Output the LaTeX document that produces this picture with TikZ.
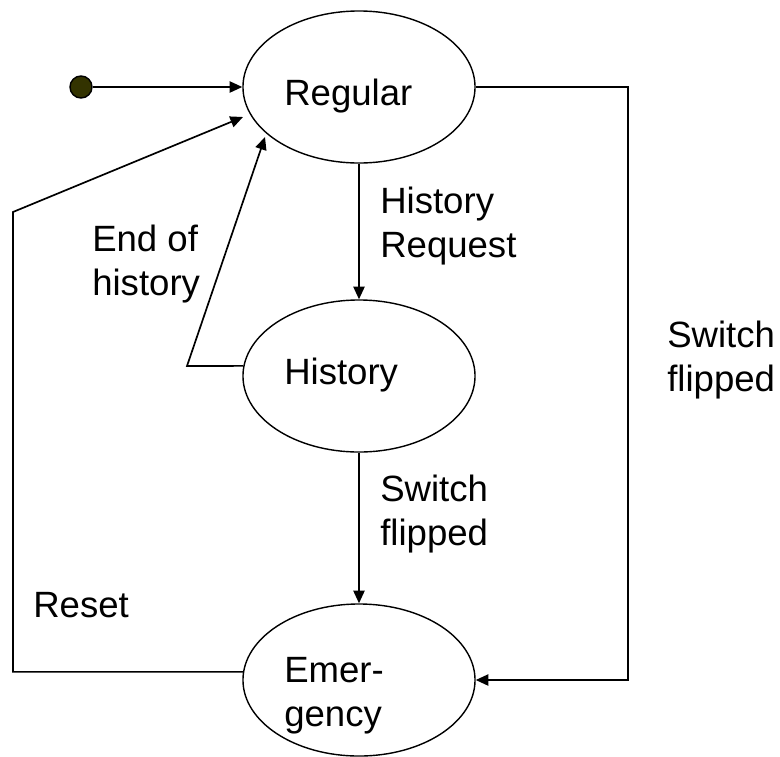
\documentclass[tikz,border=0pt]{standalone}
\usepackage{fontspec}
\setmainfont{Liberation Sans}
\usepackage{tikz}
\usetikzlibrary{
    positioning,
    arrows.meta,
    shapes.geometric
}
\definecolor{dotOlive}{RGB}{51, 51, 0}

\begin{document}
\begin{tikzpicture}[x=0.025cm, y=-0.025cm, >={Triangle[length=9pt, width=8pt]},
    state/.style={draw, ellipse, line width=1pt, inner sep=0pt,
        minimum width=5.8cm, minimum height=3.8cm},
    txt/.style={font=\fontsize{26}{31}\selectfont, align=left,
        inner sep=0pt, anchor=north west},
    wire/.style={line width=1.2pt}]
    \useasboundingbox (0,0) rectangle (780,756);

    % 状態
    \node[state] (reg) at (359, 87) {};
    \node[state] (hist) at (359, 376) {};
    \node[state] (emer) at (359, 680) {};
    \node[circle, draw, fill=dotOlive, line width=1pt, inner sep=0pt,
        minimum size=0.55cm] (init) at (81, 87) {};

    % 状態の名前
    \node[txt] (regname) at (284, 79) {Regular};
    \node[txt] (histname) at (284, 358) {History};
    \node[txt] (emername) at (284, 657) {Emer-\\gency};

    % 補助点
    \coordinate (rgt) at (628, 87);
    \coordinate (rstc) at (13, 212);
    \coordinate (rsttip) at (243, 117);
    \coordinate (endc) at (187, 366);
    \coordinate (endtip) at (265, 137);

    % 遷移
    \draw[wire, ->] (init) -- (reg.west);
    \draw[wire, ->] (reg.south) -- (hist.north);
    \draw[wire, ->] (hist.south) -- (emer.north);
    \draw[wire, ->] (reg.east) -- (rgt) |- (emer.east);
    \draw[wire, ->] (emer.176) -| (rstc) -- (rsttip);
    \draw[wire, ->] (hist.175) -- (endc) -- (endtip);

    % ラベル
    \node[txt] (lblreq) at (380, 187) {History\\Request};
    \node[txt] (lblend) at (92, 225) {End of\\history};
    \node[txt] (lblsw) at (667, 321) {Switch\\flipped};
    \node[txt] (lblsw2) at (380, 475) {Switch\\flipped};
    \node[txt] (lblrst) at (33, 592) {Reset};
\end{tikzpicture}
\end{document}
